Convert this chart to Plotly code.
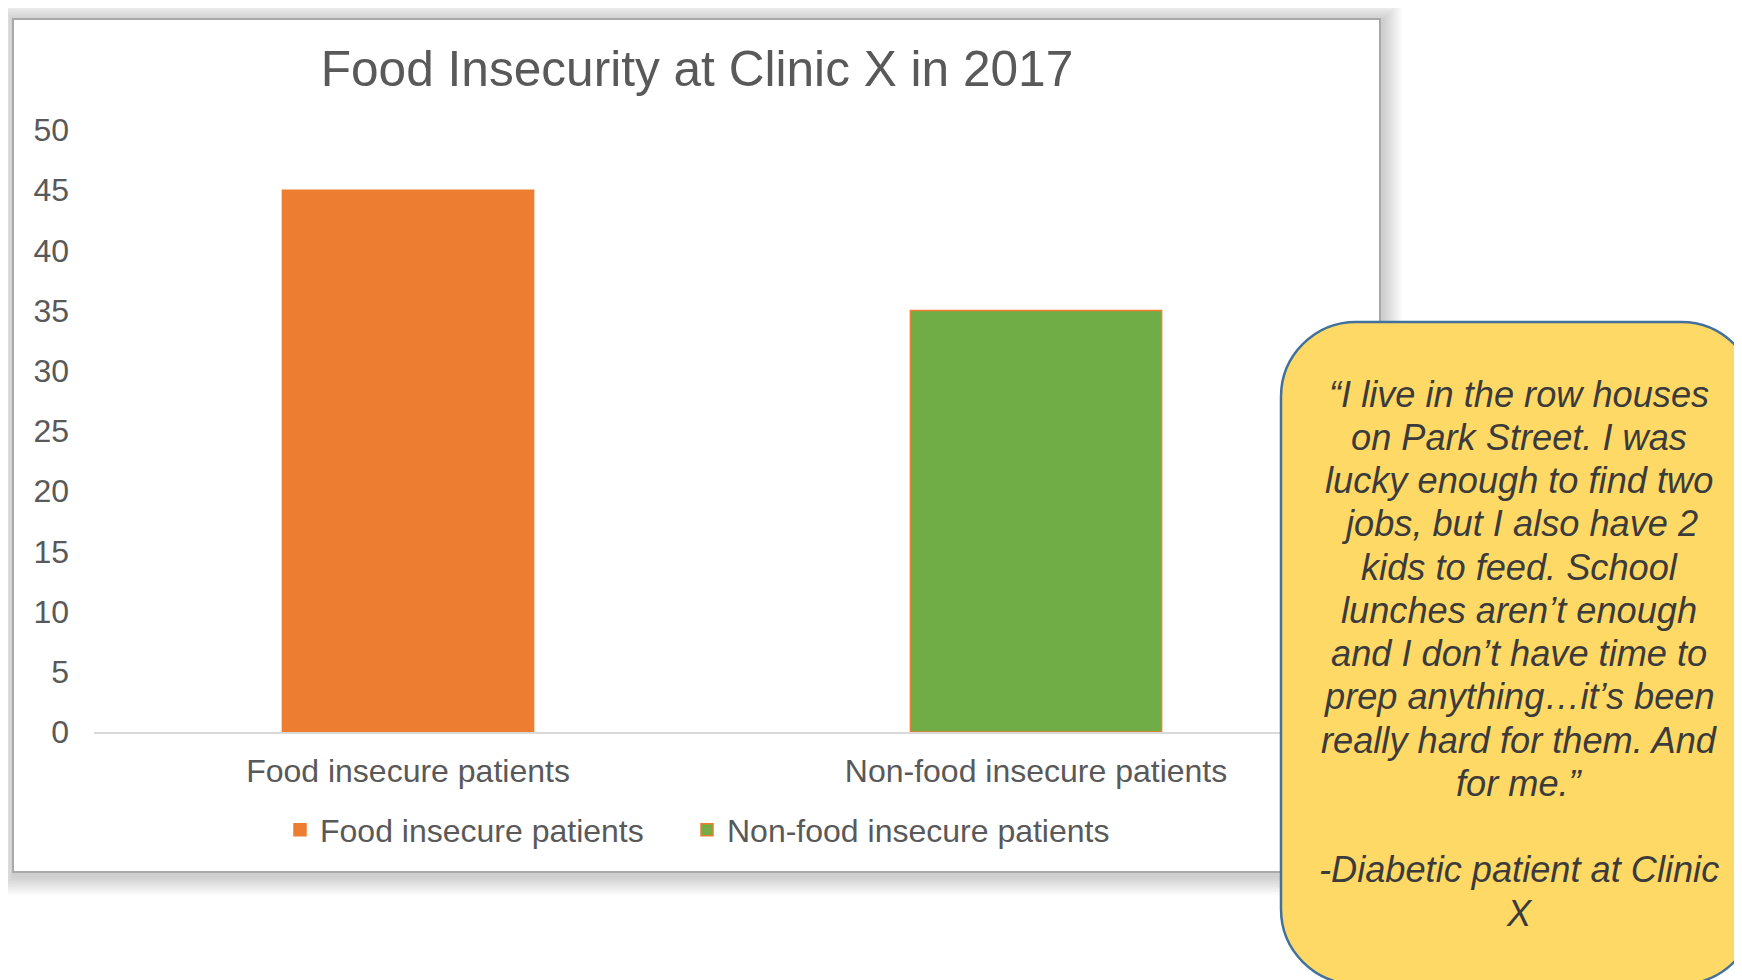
import plotly.graph_objects as go

# ---------------- data ----------------
categories = ["Food insecure patients", "Non-food insecure patients"]
values = [45, 35]
bar_colors = ["#ED7D31", "#70AD47"]
bar_outline_colors = ["#ED7D31", "#ED7D31"]
legend_ids = ["legend", "legend2"]
y_tick_values = [0, 5, 10, 15, 20, 25, 30, 35, 40, 45, 50]
chart_title = "Food Insecurity at Clinic X in 2017"
quote_lines = [
    "\u201cI live in the row houses",
    "on Park Street. I was",
    "lucky enough to find two",
    "jobs, but I also have 2",
    "kids to feed. School",
    "lunches aren\u2019t enough",
    "and I don\u2019t have time to",
    "prep anything\u2026it\u2019s been",
    "really hard for them. And",
    "for me.\u201d",
    "",
    "-Diabetic patient at Clinic",
    "X",
]

# ---------------- layout helpers ----------------
W, H = 1742, 980
OFF = 8  # page body margin offset
FONT = "Liberation Sans, Arial, sans-serif"


def px(x):
    return (x - OFF) / W


def py(y):
    return 1 - (y - OFF) / H


fig = go.Figure()
for cat, val, col, oc, lg in zip(categories, values, bar_colors,
                                  bar_outline_colors, legend_ids):
    fig.add_trace(go.Bar(
        x=[cat], y=[val], name=cat, width=0.4, legend=lg,
        marker=dict(color=col, line=dict(color=oc, width=1.5)),
        hoverinfo="x+y",
    ))

shapes = []
# soft shadow around the chart frame
L, T, R, B = 13, 19, 1380, 872
for k in range(12):
    s = 1.6 * (k + 1)
    shapes.append(dict(
        type="rect", xref="paper", yref="paper", layer="below",
        x0=px(L - s + 1), x1=px(R + s + 3), y0=py(B + s + 4), y1=py(T - s + 1),
        fillcolor="rgba(0,0,0,0.015)", line=dict(width=0),
    ))
# chart frame
shapes.append(dict(
    type="rect", xref="paper", yref="paper", layer="below",
    x0=px(L), x1=px(R), y0=py(B), y1=py(T),
    fillcolor="white", line=dict(color="#A9A9A9", width=2),
))

# rounded yellow call-out box
bl, bt, br, bb, r = 1281, 322, 1756, 984, 75
k = 0.5523 * r


def P(x, y):
    return f"{px(x):.6f},{py(y):.6f}"


path = (
    f"M{P(bl + r, bt)} L{P(br - r, bt)} "
    f"C{P(br - r + k, bt)} {P(br, bt + r - k)} {P(br, bt + r)} "
    f"L{P(br, bb - r)} "
    f"C{P(br, bb - r + k)} {P(br - r + k, bb)} {P(br - r, bb)} "
    f"L{P(bl + r, bb)} "
    f"C{P(bl + r - k, bb)} {P(bl, bb - r + k)} {P(bl, bb - r)} "
    f"L{P(bl, bt + r)} "
    f"C{P(bl, bt + r - k)} {P(bl + r - k, bt)} {P(bl + r, bt)} Z"
)
shapes.append(dict(
    type="path", xref="paper", yref="paper", layer="above", path=path,
    fillcolor="#FFD966", line=dict(color="#41719C", width=2.5),
))

annotations = []
y_first, step = 394, 43.25
for i, line in enumerate(quote_lines):
    if not line:
        continue
    annotations.append(dict(
        xref="paper", yref="paper", x=px(1519), y=py(y_first + i * step),
        text=line, showarrow=False, xanchor="center", yanchor="middle",
        font=dict(family=FONT, size=36.2, color="#3B3B3B", style="italic"),
    ))

legend_style = dict(
    orientation="h", yanchor="middle", y=py(830), xanchor="left",
    font=dict(family=FONT, size=32, color="#595959"),
    bgcolor="rgba(0,0,0,0)",
)

fig.update_layout(
    width=W, height=H,
    margin=dict(l=0, r=0, t=0, b=0, autoexpand=False),
    paper_bgcolor="white", plot_bgcolor="rgba(0,0,0,0)",
    font=dict(family=FONT, color="#595959"),
    barmode="overlay",
    title=dict(
        text=chart_title, x=px(697), y=py(69), xanchor="center", yanchor="middle",
        xref="paper", yref="paper",
        font=dict(family=FONT, size=49.6, color="#595959"),
    ),
    xaxis=dict(
        domain=[px(94), px(1350)], range=[-0.5, 1.5],
        showline=True, linecolor="#D9D9D9", linewidth=2,
        showgrid=False, zeroline=False, ticks="",
        tickfont=dict(family=FONT, size=32, color="#595959"),
        ticklabelstandoff=10, fixedrange=True, automargin=False,
    ),
    yaxis=dict(
        domain=[py(732), py(130)], range=[0, 50],
        tickmode="array", tickvals=y_tick_values,
        showline=False, showgrid=False, zeroline=False, ticks="",
        tickfont=dict(family=FONT, size=32, color="#595959"),
        ticklabelstandoff=24, fixedrange=True, automargin=False,
    ),
    legend=dict(x=px(280), **legend_style),
    legend2=dict(x=px(687), **legend_style),
    shapes=shapes,
    annotations=annotations,
    showlegend=True,
)

fig.write_html("out.html")
